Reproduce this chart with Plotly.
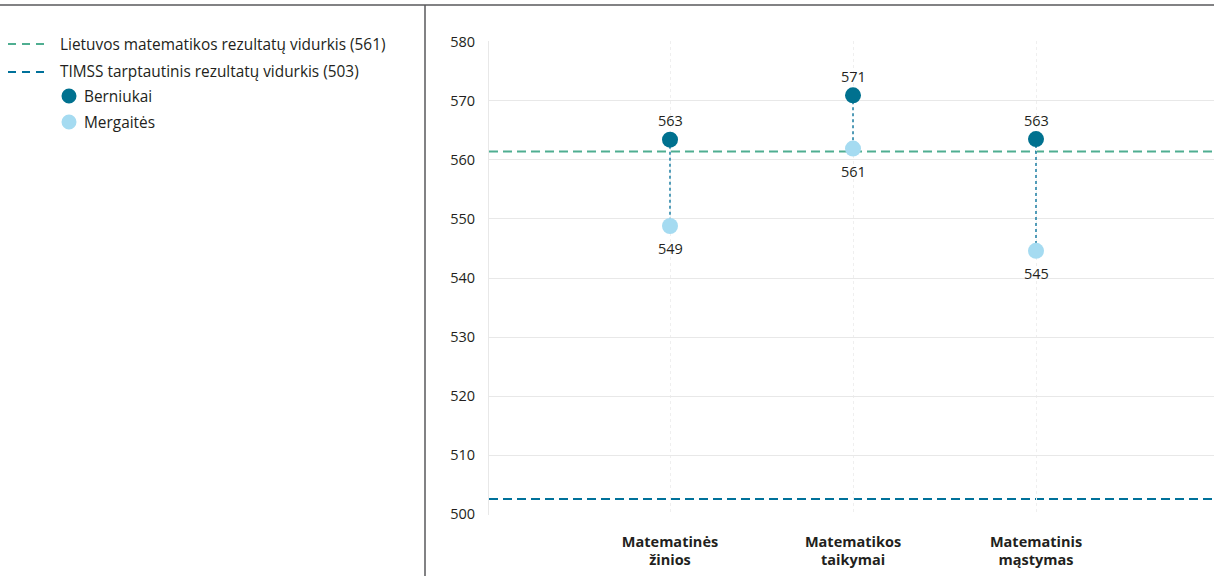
import plotly.graph_objects as go

categories = ["Matematinės<br>žinios", "Matematikos<br>taikymai", "Matematinis<br>mąstymas"]
boys = [563.4, 570.9, 563.5]
girls = [548.8, 561.9, 544.6]
boys_labels = ["563", "571", "563"]
girls_labels = ["549", "561", "545"]
lt_avg = 561.4
timss_avg = 502.6
series_names = ["Lietuvos matematikos rezultatų vidurkis (561)",
                "TIMSS tarptautinis rezultatų vidurkis (503)",
                "Berniukai", "Mergaitės"]

C_BOY = "#00718f"
C_GIRL = "#a5dbf1"
C_LT = "#4fae91"
C_TIMSS = "#00719a"
C_CONN = "#1b7ea3"
TXT = "#231f20"
FONT = "Open Sans"

W, H = 1214, 576
L, R, T, B = 489, 0, 41, 61
PW, PH = W - L - R, H - T - B

def px(x):
    return (x - L) / PW

def py(y):
    return (H - B - y) / PH

xs = list(range(len(categories)))
fig = go.Figure()

for i in xs:
    fig.add_trace(go.Scatter(x=[i, i], y=[boys[i], girls[i]], mode="lines",
                             line=dict(color=C_CONN, width=1.5, dash="3px,3px"),
                             showlegend=False, hoverinfo="skip"))

fig.add_trace(go.Scatter(x=xs, y=girls, mode="markers",
                         marker=dict(size=16, color=C_GIRL), name=series_names[3],
                         showlegend=False))
fig.add_trace(go.Scatter(x=xs, y=boys, mode="markers",
                         marker=dict(size=16, color=C_BOY), name=series_names[2],
                         showlegend=False))

annotations = []
for i in xs:
    annotations.append(dict(x=i, y=boys[i], xref="x", yref="y", text=boys_labels[i],
                            showarrow=False, yshift=19, yanchor="middle",
                            font=dict(family=FONT, size=14.5, color=TXT)))
    annotations.append(dict(x=i, y=girls[i], xref="x", yref="y", text=girls_labels[i],
                            showarrow=False, yshift=-23, yanchor="middle",
                            font=dict(family=FONT, size=14.5, color=TXT)))

shapes = [
    dict(type="line", xref="paper", yref="y", x0=0, x1=1, y0=lt_avg, y1=lt_avg,
         line=dict(color=C_LT, width=2, dash="9px,5px"), layer="below"),
    dict(type="line", xref="paper", yref="y", x0=0, x1=1, y0=timss_avg, y1=timss_avg,
         line=dict(color=C_TIMSS, width=2, dash="9px,5px"), layer="below"),
    # frame lines
    dict(type="line", xref="paper", yref="paper", x0=px(0), x1=px(W), y0=py(5), y1=py(5),
         line=dict(color="#58595b", width=1.5)),
    dict(type="line", xref="paper", yref="paper", x0=px(425), x1=px(425), y0=py(5), y1=py(H),
         line=dict(color="#58595b", width=1.5)),
]

# manual legend
legend_lines = [(series_names[0], C_LT, 44), (series_names[1], C_TIMSS, 72)]
for name, col, yy in legend_lines:
    shapes.append(dict(type="line", xref="paper", yref="paper", x0=px(8), x1=px(46),
                       y0=py(yy), y1=py(yy), line=dict(color=col, width=2, dash="8px,6px")))
    annotations.append(dict(xref="paper", yref="paper", x=px(58), y=py(yy), text=name,
                            showarrow=False, xanchor="left", yanchor="middle",
                            font=dict(family=FONT, size=15.4, color=TXT)))
legend_marks = [(series_names[2], C_BOY, 96), (series_names[3], C_GIRL, 122)]
for name, col, yy in legend_marks:
    shapes.append(dict(type="circle", xref="paper", yref="paper", x0=px(61.5), x1=px(76.5),
                       y0=py(yy + 7.5), y1=py(yy - 7.5), fillcolor=col, line=dict(width=0)))
    annotations.append(dict(xref="paper", yref="paper", x=px(82), y=py(yy), text=name,
                            showarrow=False, xanchor="left", yanchor="middle",
                            font=dict(family=FONT, size=15.4, color=TXT)))

fig.update_layout(
    width=W, height=H,
    margin=dict(l=L, r=R, t=T, b=B, pad=0),
    paper_bgcolor="white", plot_bgcolor="white",
    showlegend=False,
    shapes=shapes, annotations=annotations,
    font=dict(family=FONT, size=14, color=TXT),
)
fig.update_xaxes(range=[-(670 - L) / 183, 2 + (W - 1036) / 183],
                 tickvals=xs, ticktext=[f"<b>{c}</b>" for c in categories],
                 tickfont=dict(family=FONT, size=14.5, color=TXT),
                 showgrid=True, gridcolor="#efefef", griddash="dot", gridwidth=1,
                 zeroline=False, showline=False, ticks="", ticklabelstandoff=16)
fig.update_yaxes(range=[499.9, 580.1], tickvals=list(range(500, 581, 10)),
                 tickfont=dict(family=FONT, size=14.5, color=TXT),
                 showgrid=True, gridcolor="#e8e8e8", gridwidth=1.2,
                 zeroline=False, showline=True, linecolor="#e8e8e8", linewidth=1.2,
                 ticks="", ticklabelstandoff=10)

fig.write_html("out.html", config={"displayModeBar": False},
               post_script="document.body.style.margin='0';")
